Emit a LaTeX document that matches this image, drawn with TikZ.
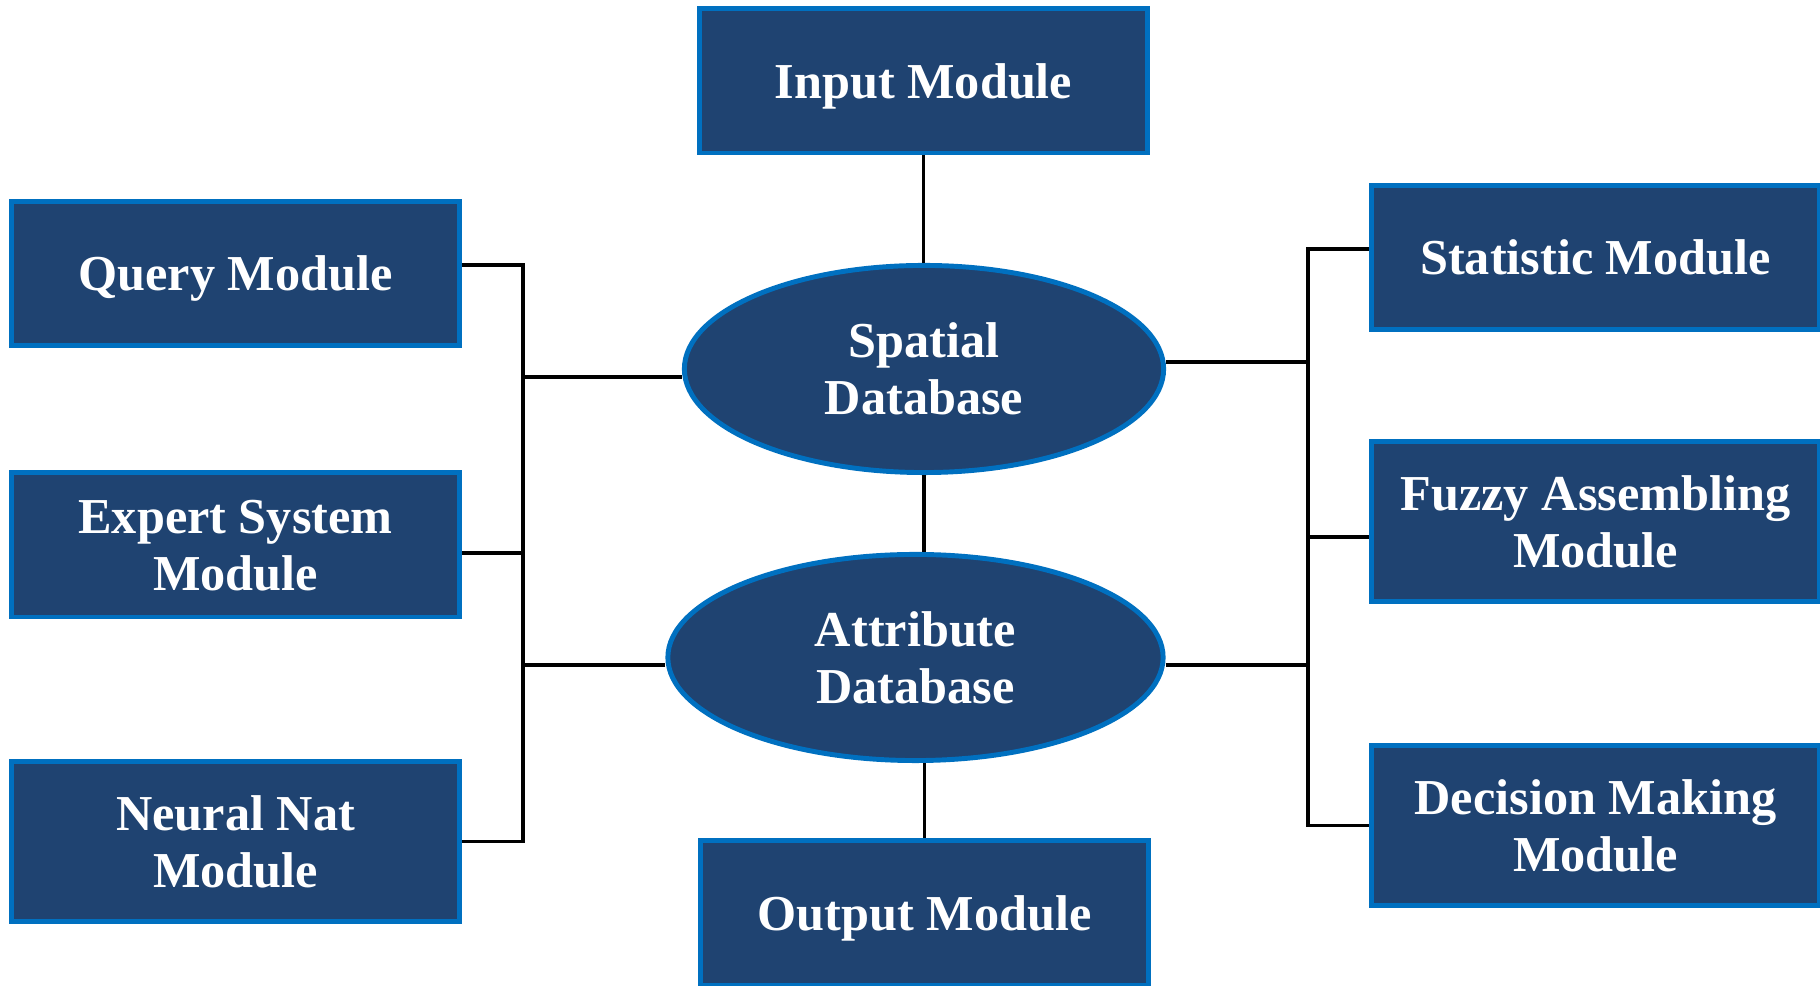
\documentclass[tikz,border=0pt]{standalone}
\usepackage{fontspec}
\setmainfont{Liberation Serif}
\usetikzlibrary{shapes,positioning}
\definecolor{boxfill}{RGB}{31,67,113}
\definecolor{boxline}{RGB}{0,112,192}

\tikzset{
  module/.style={rectangle, draw=boxline, fill=boxfill, line width=1.4pt,
    text=white, font=\fontsize{14.3}{16.2}\selectfont\bfseries, align=center,
    inner sep=0pt, minimum width=4.48cm, minimum height=1.44cm, text depth=0pt},
  tall/.style={minimum height=1.60cm},
  database/.style={ellipse, draw=boxline, fill=boxfill, line width=1.4pt,
    text=white, font=\fontsize{14.3}{16.2}\selectfont\bfseries, align=center,
    inner sep=0pt, text depth=0pt},
  link/.style={line width=1pt, black},
}

\begin{document}
\begin{tikzpicture}[x=0.01cm, y=-0.01cm]
  \useasboundingbox (0,0) rectangle (1820,986);

  % centre column
  \node[module] (input) at (923.5, 81) {Input Module};
  \node[database, minimum width=4.79cm, minimum height=2.07cm] (spatial) at (924, 369) {Spatial\\Database};
  \node[database, minimum width=4.95cm, minimum height=2.06cm] (attribute) at (915.5, 657.5) {Attribute\\Database};
  \node[module] (output) at (924.5, 913) {Output Module};

  % left column
  \node[module] (query)  at (235.5, 273.5) {Query Module};
  \node[module] (expert) at (235.5, 545) {Expert System\\Module};
  \node[module, tall] (neural) at (235.5, 841.5) {Neural Nat\\Module};

  % right column
  \node[module] (statistic) at (1595.5, 257.5) {Statistic Module};
  \node[module, tall] (fuzzy) at (1595.5, 521.5) {Fuzzy Assembling\\Module};
  \node[module, tall] (decision) at (1595.5, 825.5) {Decision Making\\Module};

  \coordinate (lbus) at (523, 0);
  \coordinate (rbus) at (1308, 0);

  \draw[link] (input.south) -- (input.south |- spatial.north);
  \draw[link] (spatial.south) -- (spatial.south |- attribute.north);
  \draw[link] (output.north |- attribute.south) -- (output.north);

  \draw[link] ([yshift=0.085cm]query.east) -| (neural.east -| lbus) -- (neural.east);
  \draw[link] ([yshift=-0.08cm]expert.east) -- ([yshift=-0.08cm]expert.east -| lbus);
  \draw[link] ([yshift=-0.08cm]spatial.west) -- ([yshift=-0.08cm]spatial.west -| lbus);
  \draw[link] ([yshift=-0.075cm]attribute.west) -- ([yshift=-0.075cm]attribute.west -| lbus);

  \draw[link] ([yshift=0.085cm]statistic.west) -| (decision.west -| rbus) -- (decision.west);
  \draw[link] ([yshift=-0.155cm]fuzzy.west) -- ([yshift=-0.155cm]fuzzy.west -| rbus);
  \draw[link] ([yshift=0.07cm]spatial.east) -- ([yshift=0.07cm]spatial.east -| rbus);
  \draw[link] ([yshift=-0.075cm]attribute.east) -- ([yshift=-0.075cm]attribute.east -| rbus);
\end{tikzpicture}
\end{document}
